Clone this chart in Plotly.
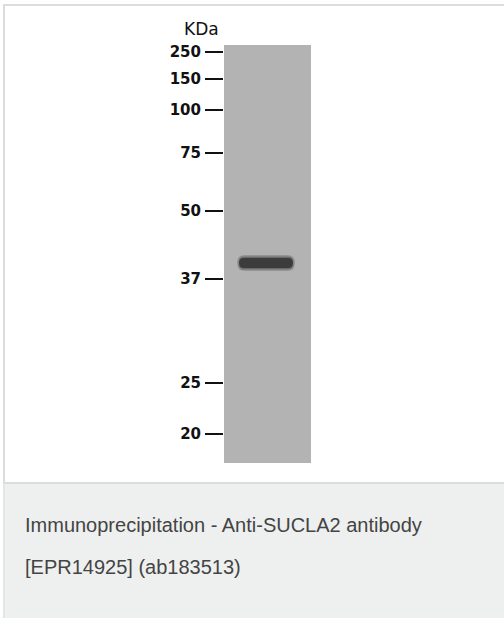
import plotly.graph_objects as go

# Marker ladder (kDa) and their migration positions (px from image top)
marker_labels = ["250", "150", "100", "75", "50", "37", "25", "20"]
marker_migration = [52, 79, 110, 153, 211, 279, 383, 434]

# Detected band (migration position)
band_migration = [263]
band_label = ["SUCLA2"]

unit_label = "KDa"
caption_lines = ["Immunoprecipitation - Anti-SUCLA2 antibody", "[EPR14925] (ab183513)"]

W, H = 504, 618
X0, X1 = 0, W
Y0, Y1 = 0, H

fig = go.Figure()
fig.add_trace(go.Scatter(x=[X0], y=[Y0], mode="markers", marker=dict(opacity=0),
                         hoverinfo="skip", showlegend=False))

shapes = []
# caption area
shapes.append(dict(type="rect", xref="x", yref="y", x0=3, x1=X1 + 2, y0=482, y1=Y1 + 2,
                   fillcolor="#eef0ef", line_width=0, layer="below"))
shapes.append(dict(type="rect", xref="x", yref="y", x0=3, x1=X1 + 2, y0=482, y1=484,
                   fillcolor="#dcdddc", line_width=0, layer="below"))
shapes.append(dict(type="rect", xref="x", yref="y", x0=3, x1=5, y0=484, y1=Y1 + 2,
                   fillcolor="#e4e6e5", line_width=0, layer="below"))
# card frame
shapes.append(dict(type="rect", xref="x", yref="y", x0=3, x1=X1 + 2, y0=4, y1=6,
                   fillcolor="#dcdcdc", line_width=0, layer="below"))
shapes.append(dict(type="rect", xref="x", yref="y", x0=3, x1=5, y0=4, y1=483,
                   fillcolor="#dcdcdc", line_width=0, layer="below"))
# lane
lane_x0, lane_x1, lane_y0, lane_y1 = 224, 311, 45, 463
shapes.append(dict(type="rect", xref="x", yref="y", x0=lane_x0, x1=lane_x1, y0=lane_y0, y1=lane_y1,
                   fillcolor="#b3b3b3", line_width=0, layer="above"))

# band(s)
for b in band_migration:
    bx0, bx1, h = 238, 294, 7
    r = 6
    path = (f"M {bx0 + r},{b - h} L {bx1 - r},{b - h} "
            f"Q {bx1},{b - h} {bx1},{b} Q {bx1},{b + h} {bx1 - r},{b + h} "
            f"L {bx0 + r},{b + h} Q {bx0},{b + h} {bx0},{b} Q {bx0},{b - h} {bx0 + r},{b - h} Z")
    shapes.append(dict(type="path", xref="x", yref="y", path=path,
                       fillcolor="#6a6a6a", line=dict(color="#8a8a8a", width=1.5), layer="above"))
    h2 = 5
    path2 = (f"M {bx0 + r},{b - h2} L {bx1 - r},{b - h2} "
             f"Q {bx1 - 1},{b - h2} {bx1 - 1},{b} Q {bx1 - 1},{b + h2} {bx1 - r},{b + h2} "
             f"L {bx0 + r},{b + h2} Q {bx0 + 1},{b + h2} {bx0 + 1},{b} Q {bx0 + 1},{b - h2} {bx0 + r},{b - h2} Z")
    shapes.append(dict(type="path", xref="x", yref="y", path=path2,
                       fillcolor="#3c3c3c", line_width=0, layer="above"))

annotations = [
    dict(x=201, y=29, xref="x", yref="y", text=unit_label, showarrow=False,
         font=dict(family="DejaVu Sans", size=17, color="#111"), xanchor="center", yanchor="middle"),
    dict(x=23, y=525, xref="x", yref="y", text=caption_lines[0], showarrow=False,
         font=dict(family="Liberation Sans, Arial", size=20, color="#444444"), xanchor="left", yanchor="middle"),
    dict(x=23, y=567, xref="x", yref="y", text=caption_lines[1], showarrow=False,
         font=dict(family="Liberation Sans, Arial", size=20, color="#444444"), xanchor="left", yanchor="middle"),
]

fig.update_layout(
    width=W, height=H, margin=dict(l=0, r=0, t=0, b=0),
    paper_bgcolor="white", plot_bgcolor="white",
    showlegend=False, shapes=shapes, annotations=annotations,
    xaxis=dict(range=[X0, X1], visible=False, showgrid=False, zeroline=False, fixedrange=True),
    yaxis=dict(range=[Y1, Y0], anchor="free", position=(223 - X0) / W, showgrid=False, zeroline=False,
               showline=False, ticks="outside", ticklen=18, tickwidth=2.5, tickcolor="#111",
               tickvals=marker_migration, ticktext=marker_labels, ticklabelstandoff=1,
               tickfont=dict(family="DejaVu Sans", size=15, color="#111", weight="bold"), fixedrange=True),
)

fig.write_html(
    "out.html",
    config={"displayModeBar": False, "staticPlot": True},
    post_script="document.body.style.margin='0';document.body.style.overflow='hidden';",
)
